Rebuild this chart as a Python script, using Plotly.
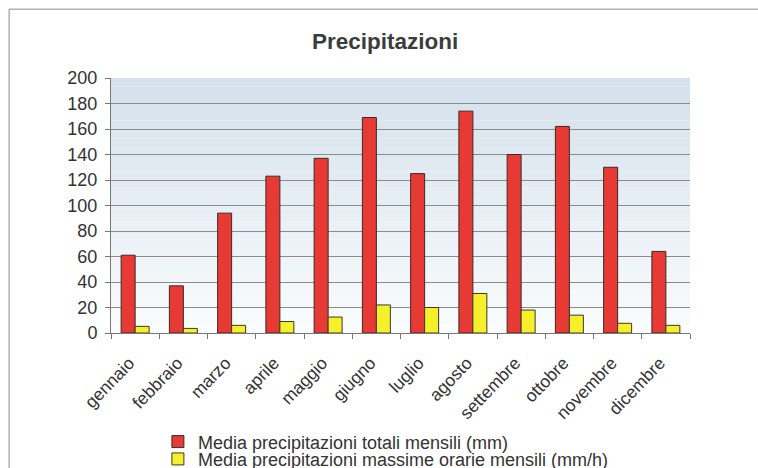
import plotly.graph_objects as go

mesi = ["gennaio", "febbraio", "marzo", "aprile", "maggio", "giugno",
        "luglio", "agosto", "settembre", "ottobre", "novembre", "dicembre"]
totali = [61, 37, 94, 123, 137, 169, 125, 174, 140, 162, 130, 64]
massime = [5.2, 3.6, 6, 9, 12.5, 22, 20, 31, 18, 14, 7.6, 6]
y_ticks = [0, 20, 40, 60, 80, 100, 120, 140, 160, 180, 200]

fig = go.Figure()
fig.add_trace(go.Bar(x=mesi, y=totali, name="Media precipitazioni totali mensili (mm)",
                     legend="legend",
                     marker=dict(color="#e83a34", line=dict(color="#3a2a2a", width=1))))
fig.add_trace(go.Bar(x=mesi, y=massime, name="Media precipitazioni massime orarie mensili (mm/h)",
                     legend="legend2",
                     marker=dict(color="#f6f02a", line=dict(color="#3a3a2a", width=1))))

# gradient background bands for plot area
shapes = []
n = 30
for i in range(n):
    t = i / (n - 1)
    r = int(212 + (250 - 212) * (1 - t))
    g = int(225 + (252 - 225) * (1 - t))
    b = int(236 + (253 - 236) * (1 - t))
    shapes.append(dict(type="rect", xref="paper", yref="paper", x0=0, x1=1,
                       y0=i / n, y1=(i + 1) / n, fillcolor=f"rgb({r},{g},{b})",
                       line=dict(width=0), layer="below"))
# outer frame lines
shapes.append(dict(type="line", xref="paper", yref="paper", x0=-0.176, x1=1.2,
                   y0=1.27, y1=1.27, line=dict(color="#8a8a8a", width=1)))
shapes.append(dict(type="line", xref="paper", yref="paper", x0=-0.176, x1=-0.176,
                   y0=1.27, y1=-0.6, line=dict(color="#8a8a8a", width=1)))

leg_common = dict(x=0.081, xanchor="left", yanchor="middle", orientation="v",
                  font=dict(size=18, color="#333"), bgcolor="rgba(0,0,0,0)",
                  itemwidth=30)

fig.update_layout(
    width=758, height=468,
    margin=dict(l=111, r=68, t=78, b=135, autoexpand=False),
    paper_bgcolor="white",
    plot_bgcolor="rgba(0,0,0,0)",
    title=dict(text="<b>Precipitazioni</b>", x=0.508, xanchor="center", y=0.912, yanchor="middle",
               xref="container",
               font=dict(family="Liberation Sans, Arial", size=22.5, color="#3c3c3c")),
    font=dict(family="Liberation Sans, Arial", color="#333"),
    barmode="group", bargap=0.42, bargroupgap=0.0,
    shapes=shapes,
    showlegend=True,
    legend=dict(y=-0.427, **leg_common),
    legend2=dict(y=-0.495, **leg_common),
)
fig.update_xaxes(tickangle=-46, tickfont=dict(size=17.5, color="#333"),
                 tickson="boundaries", ticks="outside", ticklen=5, tickcolor="#777",
                 ticklabelstandoff=12, ticklabelshift=-6,
                 showline=True, linecolor="#777", linewidth=1, showgrid=False,
                 automargin=False)
fig.update_yaxes(range=[0, 200], tickvals=y_ticks, tickfont=dict(size=18, color="#333"),
                 ticks="outside", ticklen=5, tickcolor="#777", ticklabelstandoff=4,
                 showline=True, linecolor="#777", linewidth=1,
                 showgrid=True, gridcolor="#8c8c8c", gridwidth=1, zeroline=False,
                 automargin=False)

fig.write_html("out.html")
